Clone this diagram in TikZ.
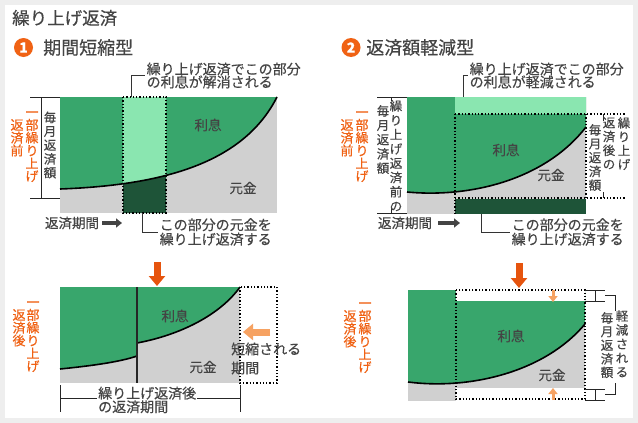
\documentclass[tikz,border=0pt]{standalone}
\usepackage{fontspec}
\setmainfont{Noto Sans CJK JP}[FakeBold=0.35]
\usetikzlibrary{positioning, arrows.meta}
\definecolor{pagegray}{RGB}{238,238,238}
\definecolor{inkgray}{RGB}{68,68,68}
\definecolor{risoku}{RGB}{56,166,108}
\definecolor{risokulite}{RGB}{138,230,176}
\definecolor{kuriagedark}{RGB}{30,84,56}
\definecolor{gankin}{RGB}{208,208,208}
\definecolor{kuriorange}{RGB}{240,98,20}
\definecolor{arrowdeep}{RGB}{230,84,14}
\definecolor{arrowlite}{RGB}{246,162,98}
\newcommand{\jpfont}[2]{\fontsize{#1}{#2}\selectfont\lineskiplimit=-20pt}
\newcommand{\topstrut}{\vphantom{部}}

\begin{document}
\begin{tikzpicture}[x=1pt, y=-1pt,
    heading/.style={anchor=west, inner sep=0pt, text=inkgray, font=\jpfont{17.5}{20}},
    numball/.style={circle, fill=kuriorange, text=white, inner sep=0pt, minimum size=19pt, font=\bfseries\jpfont{14}{14}},
    partlbl/.style={inner sep=0pt, text=inkgray, font=\jpfont{13.5}{15}},
    vtext/.style={align=center, anchor=north, inner sep=0pt, text=inkgray, font=\jpfont{12.5}{13.8}},
    ktext/.style={align=center, anchor=north, inner sep=0pt, text=kuriorange, font=\jpfont{13}{12.8}},
    callout/.style={anchor=west, align=left, inner sep=1.5pt, text=inkgray, font=\jpfont{14}{13}},
    bound/.style={draw=black, line width=1.6pt},
    dotline/.style={draw=black, line width=1.3pt, dotted},
    brk/.style={draw=black!85, line width=1pt},
    lead/.style={draw=black!80, line width=1pt},
    flowarrow/.style={draw=inkgray, line width=3.5pt, -{Triangle[width=9pt, length=6pt]}},
    bigarrow/.style={draw=arrowdeep, line width=7pt, -{Triangle[width=16pt, length=10pt]}},
    litearrow/.style={draw=arrowlite, line width=7pt, -{Triangle[width=16pt, length=10pt]}},
    smallarrow/.style={draw=arrowlite, line width=3pt, -{Triangle[width=9pt, length=6pt]}}]

  \fill[pagegray] (0,0) rectangle (638,423);
  \fill[white] (5,5) rectangle (633,418);

  \node[heading] (ttl) at (12,18) {繰り上げ返済};
  \node[numball] (numA) at (23.5,47.5) {1};
  \node[heading, font=\jpfont{18}{20}] (typeA) at (43,47.5) {期間短縮型};
  \node[numball] (numB) at (351,47.5) {2};
  \node[heading, font=\jpfont{18}{20}] (typeB) at (366,47.5) {返済額軽減型};

  % 期間短縮型 / before
  \fill[gankin] (60,97) rectangle (277,213);
  \fill[risoku] (60,97) -- (60,189) .. controls (170,185) and (245,160) .. (277,97) -- cycle;
  \begin{scope}
    \clip (123,97) rectangle (166,213);
    \fill[risokulite] (60,97) -- (60,189) .. controls (170,185) and (245,160) .. (277,97) -- cycle;
    \fill[kuriagedark] (60,213) -- (60,189) .. controls (170,185) and (245,160) .. (277,97) -- (277,213) -- cycle;
  \end{scope}
  \draw[bound] (60,189) .. controls (170,185) and (245,160) .. (277,97);
  \draw[dotline] (123,97) rectangle (166,213);
  \node[partlbl] (risokuA) at (208,125) {利息};
  \node[partlbl] (gankinA) at (243,188) {元金};

  \draw[brk] (30,97) -- (60,97) (30,198) -- (60,198) (41,97) -- (41,198);
  \node[vtext] (gakuA) at (50,111.5) {毎\\月\\返\\済\\額};
  \node[ktext] (maeA) at (32,106) {\topstrut 一\\部\\繰\\り\\上\\げ};
  \node[ktext] (maeAb) at (17,119) {返\\済\\前};

  \node[partlbl] (kikanA) at (72,223) {返済期間};
  \coordinate (kikanAend) at (122,223);
  \draw[flowarrow] (kikanA.east) ++(3,0) -- (kikanAend);

  \node[callout] (noteA) at (145,75.5) {繰り上げ返済でこの部分\\の利息が解消される};
  \coordinate (colAtop) at (131,97);
  \draw[lead] (colAtop) |- (noteA.west);
  \node[callout, font=\jpfont{14}{14.5}] (noteAb) at (158,232) {この部分の元金を\\繰り上げ返済する};
  \coordinate (colAbot) at (142,213);
  \draw[lead] (colAbot) |- (noteAb.west);

  % 期間短縮型 / after
  \coordinate (dnA) at (157,262);
  \coordinate (dnAend) at (157,286);
  \draw[bigarrow] (dnA) -- (dnAend);
  \fill[gankin] (60,287) rectangle (240,383);
  \fill[risoku] (60,287) -- (60,369) .. controls (90,366) and (120,362) .. (137,356) -- (137,287) -- cycle;
  \fill[risoku] (137,287) -- (137,343) .. controls (180,335) and (220,315) .. (240,287) -- cycle;
  \draw[bound] (60,369) .. controls (90,366) and (120,362) .. (137,356);
  \draw[bound] (137,343) .. controls (180,335) and (220,315) .. (240,287);
  \draw[black!85, line width=1.3pt] (137,287) -- (137,383);
  \draw[dotline] (240,287) rectangle (277,383);
  \node[partlbl] (risokuAa) at (175,316) {利息};
  \node[partlbl] (gankinAa) at (203,367) {元金};
  \coordinate (shortA) at (270,332);
  \coordinate (shortAend) at (243,332);
  \draw[litearrow] (shortA) -- (shortAend);
  \node[callout, inner sep=0pt, font=\jpfont{14}{19}] (tanshuku) at (231,358.5) {短縮される\\期間};

  \node[ktext] (atoA) at (33,296) {\topstrut 一\\部\\繰\\り\\上\\げ};
  \node[ktext] (atoAb) at (19,309) {返\\済\\後};

  \draw[brk] (60,385) -- (60,412) (240,385) -- (240,412) (60,398) -- (240,398);
  \node[callout, fill=white, inner sep=1pt, font=\jpfont{14}{13.6}] (atokikan) at (97,400) {繰り上げ返済後\\の返済期間};

  % 返済額軽減型 / before
  \fill[gankin] (407,97) rectangle (586,214);
  \fill[risoku] (407,97) -- (407,192) .. controls (470,198) and (545,180) .. (586,127) -- (586,97) -- cycle;
  \fill[risokulite] (455,97) rectangle (586,114);
  \fill[kuriagedark] (455,199) rectangle (586,214);
  \draw[bound] (407,192) .. controls (470,198) and (545,180) .. (586,127);
  \draw[dotline] (455,114) -- (455,214) (455,114) -- (625,114) (455,198) -- (625,198) (586,114) -- (586,198);
  \node[partlbl] (risokuB) at (506,150) {利息};
  \node[partlbl] (gankinB) at (551,175) {元金};

  \draw[brk] (377,97) -- (407,97) (377,213) -- (407,213) (391,97) -- (391,101) (391,208) -- (391,213);
  \node[vtext, font=\jpfont{12.5}{14.3}] (gakuB) at (383,105) {毎\\月\\返\\済\\額};
  \node[vtext, font=\jpfont{12.5}{14.3}] (maegakuB) at (396,100) {繰\\り\\上\\げ\\返\\済\\前\\の};
  \node[ktext] (maeB) at (362,106) {\topstrut 一\\部\\繰\\り\\上\\げ};
  \node[ktext] (maeBb) at (347,119) {返\\済\\前};

  \draw[brk] (603,114) -- (603,121) (603,192) -- (603,198);
  \node[vtext] (gakuBr) at (595,124) {毎\\月\\返\\済\\額};
  \node[vtext] (atoBm) at (609,117) {返\\済\\後\\の};
  \node[vtext] (atoBr) at (624,117) {繰\\り\\上\\げ};

  \node[partlbl] (kikanB) at (405,223) {返済期間};
  \coordinate (kikanBend) at (460,223);
  \draw[flowarrow] (kikanB.east) ++(6,0) -- (kikanBend);

  \node[callout] (noteB) at (468,75.5) {繰り上げ返済でこの部分\\の利息が軽減される};
  \coordinate (bandBtop) at (463,97);
  \draw[lead] (bandBtop) |- (noteB.west);
  \node[callout, font=\jpfont{14}{14.5}] (noteBb) at (510,232) {この部分の元金を\\繰り上げ返済する};
  \coordinate (bandBbot) at (481,214);
  \draw[lead] (bandBbot) |- (noteBb.west);

  % 返済額軽減型 / after
  \coordinate (dnB) at (519,263);
  \coordinate (dnBend) at (519,288);
  \draw[bigarrow] (dnB) -- (dnBend);
  \fill[gankin] (408,290) rectangle (456,401);
  \fill[gankin] (456,290) rectangle (585,388);
  \fill[risoku] (408,290) -- (408,382) .. controls (470,390) and (545,372) .. (585,324) -- (585,290) -- cycle;
  \fill[white] (456,290) rectangle (585,301);
  \draw[bound] (408,382) .. controls (470,390) and (545,372) .. (585,324);
  \draw[dotline] (456,290) rectangle (585,399);
  \node[partlbl] (risokuBb) at (511,336) {利息};
  \node[partlbl] (gankinBb) at (552,375) {元金};
  \coordinate (upperB) at (553,290);
  \coordinate (upperBend) at (553,302);
  \draw[smallarrow] (upperB) -- (upperBend);
  \coordinate (lowerB) at (553,400);
  \coordinate (lowerBend) at (553,388);
  \draw[smallarrow] (lowerB) -- (lowerBend);

  \draw[brk] (585,290) -- (605,290) (585,301) -- (605,301) (595,290) -- (595,301)
             (605,295.5) -| (615,311);
  \draw[brk] (585,389) -- (605,389) (585,400) -- (605,400) (595,389) -- (595,400)
             (605,394.5) -| (615,383);
  \node[vtext, font=\jpfont{12.5}{13.6}] (genB) at (607,312) {毎\\月\\返\\済\\額};
  \node[vtext, font=\jpfont{12.5}{14}] (genBr) at (622,310) {軽\\減\\さ\\れ\\る};

  \node[ktext] (atoB) at (365,297) {\topstrut 一\\部\\繰\\り\\上\\げ};
  \node[ktext] (atoBb) at (350,310) {返\\済\\後};
\end{tikzpicture}
\end{document}
